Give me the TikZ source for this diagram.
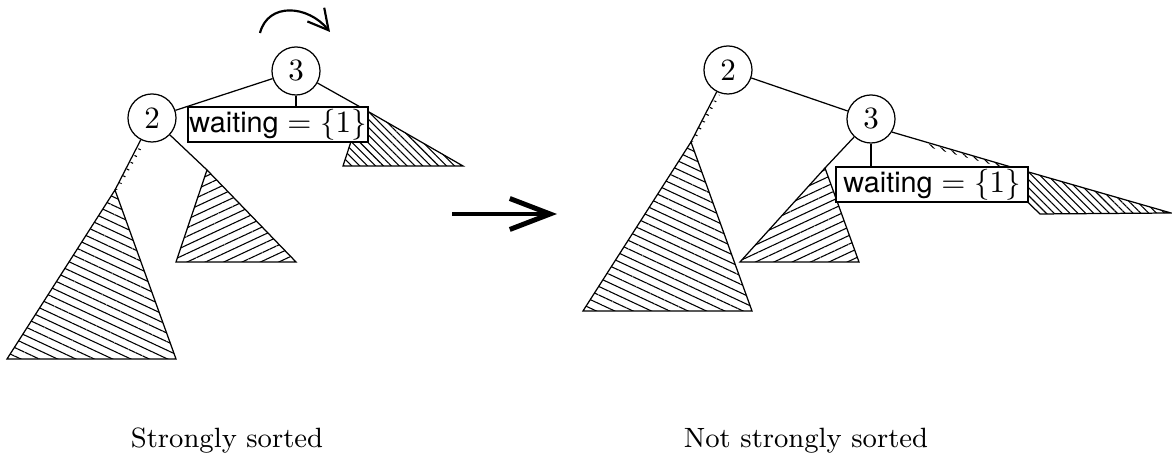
\documentclass[tikz,border=0pt]{standalone}
\usepackage{fontspec}
\setsansfont{TeX Gyre Heros}
\usetikzlibrary{patterns.meta,arrows.meta}
\begin{document}
\begin{tikzpicture}[x=0.3226pt,y=-0.3226pt,line width=0.4pt,
  tnode/.style={circle,draw,fill=white,minimum size=15.5pt,inner sep=0pt,font={\fontsize{10}{12}\selectfont}},
  wbox/.style={draw,fill=white,minimum height=11.3pt,inner sep=0.5pt,font={\fontsize{10}{12}\selectfont}},
  patA/.style={pattern={Lines[angle=-25,distance=2.5pt,line width=0.35pt]}},
  patB/.style={pattern={Lines[angle=25,distance=2.5pt,line width=0.35pt]}},
  patC/.style={pattern={Lines[angle=-45,distance=1.8pt,line width=0.35pt]}},
  hatchA/.style={draw,patA},
  hatchB/.style={draw,patB},
  hatchC/.style={draw,patC},
  edge/.style={draw,line width=0.4pt},
  lab/.style={anchor=base,inner sep=0pt,font={\fontsize{9}{11}\selectfont}}]
\newcommand{\wtxt}{$\textsf{\fontsize{9.3}{11}\selectfont waiting} = \{1\}$}
\useasboundingbox (0,0) rectangle (1172,469);

% ---------- left tree ----------
\coordinate (aL1) at (115,190);
\coordinate (aL2) at (207,170);
\coordinate (aL3) at (362,108);
\path[hatchA] (aL1) -- (7,359) -- (176,359) -- cycle;
\path[patA] (141,144) -- (115,190) -- (118,190) -- (144,144) -- cycle;
\path[hatchB] (aL2) -- (176,262) -- (296,262) -- cycle;
\path[hatchC] (aL3) -- (343,166) -- (463,166) -- cycle;

\node[tnode] (n3L) at (296,71) {3};
\node[tnode] (n2L) at (152,118) {2};
\draw[edge] (n3L) -- (n2L);
\draw[edge] (n2L) -- (aL1);
\draw[edge] (n2L) -- (aL2);
\draw[edge] (n3L) -- (aL3);
\node[wbox,minimum width=58.1pt] (wL) at (278,124.5) {\wtxt};
\draw[edge] (n3L.south) -- (n3L.south |- wL.north);

\coordinate (rotS) at (260,33);
\coordinate (rotE) at (330,32);
\draw[line width=0.7pt,-{Straight Barb[length=6.5pt,width=7pt]}] (rotS) .. controls (268,2) and (308,5) .. (rotE);

% ---------- big arrow ----------
\coordinate (bigS) at (452,214);
\coordinate (bigE) at (557,214);
\draw[line width=1.6pt,-{Straight Barb[length=13pt,width=10pt]}] (bigS) -- (bigE);

% ---------- right tree ----------
\coordinate (aR1) at (691,142);
\coordinate (aR2) at (825,168);
\coordinate (aR3) at (1011,167);
\path[hatchA] (aR1) -- (583,311) -- (752,311) -- cycle;
\path[patA] (717,95) -- (691,142) -- (694,142) -- (720,95) -- cycle;
\path[hatchB] (aR2) -- (740,262) -- (859,262) -- cycle;
\path[hatchC] (aR3) -- (1011,186) -- (1040,214) -- (1171,213) -- cycle;
\path[patC] (925,143) -- (1011,167) -- (1011,170) -- (925,146) -- cycle;

\node[tnode] (n2R) at (728,70) {2};
\node[tnode] (n3R) at (871,119) {3};
\draw[edge] (n2R) -- (n3R);
\draw[edge] (n2R) -- (aR1);
\draw[edge] (n3R) -- (aR2);
\draw[edge] (n3R.-32) -- (aR3);
\node[wbox,minimum width=61.9pt] (wR) at (932,184.5) {\wtxt};
\draw[edge] (n3R.south) -- (n3R.south |- wR.north);

% ---------- captions ----------
\node[lab] (sL) at (227,448) {Strongly sorted};
\node[lab] (sR) at (806,448) {Not strongly sorted};
\end{tikzpicture}
\end{document}
